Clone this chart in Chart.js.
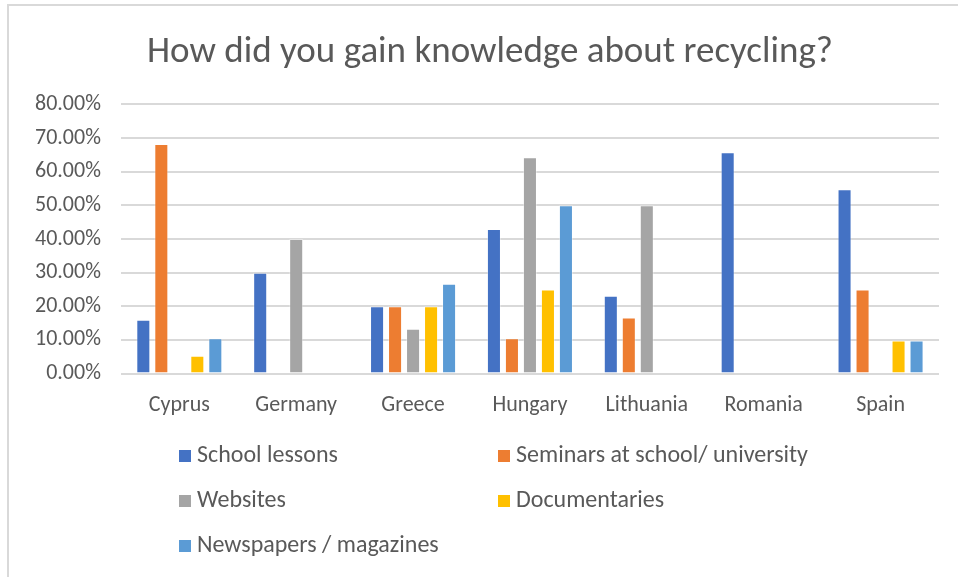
<!DOCTYPE html>
<html>
<head>
<meta charset="utf-8">
<title>Recycling knowledge</title>
<script src="https://cdn.jsdelivr.net/npm/chart.js@4.4.0/dist/chart.umd.min.js"></script>
<style>
    html, body { margin: 0; padding: 0; background: #fff; overflow: hidden; }
    #frame {
        position: absolute; left: 7px; top: 4px;
        width: 1000px; height: 1000px;
        border: 2px solid #D9D9D9;
    }
    #wrap { position: absolute; left: 0; top: 0; width: 958px; height: 577px; }
</style>
</head>
<body>
<div id="frame"></div>
<div id="wrap"><canvas id="chart" width="958" height="577"></canvas></div>
<script>
// Survey data (percent of respondents)
const countries = ['Cyprus', 'Germany', 'Greece', 'Hungary', 'Lithuania', 'Romania', 'Spain'];
const seriesNames = ['School lessons', 'Seminars at school/ university', 'Websites', 'Documentaries', 'Newspapers / magazines'];
const schoolLessons = [16, 30, 20, 43, 23.1, 65.8, 54.8];
const seminars = [68.2, 0, 20, 10.5, 16.7, 0, 25];
const websites = [0, 40, 13.3, 64.3, 50, 0, 0];
const documentaries = [5.3, 0, 20, 25, 0, 0, 9.8];
const newspapers = [10.5, 0, 26.7, 50, 0, 0, 9.8];
const yTicks = [0, 10, 20, 30, 40, 50, 60, 70, 80];

const colors = ['#4472C4', '#ED7D31', '#A5A5A5', '#FFC000', '#5B9BD5'];
const textColor = '#595959';
const fontFamily = 'Calibri, Carlito, Lato, sans-serif';

// Two-column legend under the plot
const gridLegend = {
    id: 'gridLegend',
    afterDraw(chart) {
        const ctx = chart.ctx;
        const cols = [179, 498];
        const rows = [456, 501, 546];
        ctx.save();
        ctx.font = '24px ' + fontFamily;
        ctx.textBaseline = 'middle';
        chart.data.datasets.forEach((ds, i) => {
            const x = cols[i % 2];
            const y = rows[Math.floor(i / 2)];
            ctx.fillStyle = ds.backgroundColor;
            ctx.fillRect(x, y - 6, 12, 12);
            ctx.fillStyle = textColor;
            ctx.fillText(ds.label, x + 18, y);
        });
        ctx.restore();
    }
};

// Nudge the title a little to the right of the canvas centre
const titleShift = {
    id: 'titleShift',
    afterLayout(chart) {
        if (chart.titleBlock) {
            chart.titleBlock.left += 13;
            chart.titleBlock.right += 13;
        }
    }
};

const seriesData = [schoolLessons, seminars, websites, documentaries, newspapers];

new Chart(document.getElementById('chart'), {
    type: 'bar',
    data: {
        labels: countries,
        datasets: seriesNames.map((name, i) => ({
            label: name,
            data: seriesData[i],
            backgroundColor: colors[i],
            borderColor: 'rgba(255,255,255,0.35)',
            borderWidth: 1
        }))
    },
    options: {
        responsive: false,
        animation: false,
        layout: {
            padding: { top: 22, left: 15, right: 19, bottom: 147 }
        },
        categoryPercentage: 0.77,
        barPercentage: 0.78,
        plugins: {
            legend: { display: false },
            tooltip: { enabled: false },
            title: {
                display: true,
                text: 'How did you gain knowledge about recycling?',
                color: textColor,
                font: { family: fontFamily, size: 37, weight: 'normal' },
                padding: { top: 9, bottom: 29 }
            }
        },
        scales: {
            x: {
                grid: { display: false },
                border: { display: false },
                ticks: {
                    color: textColor,
                    font: { family: fontFamily, size: 22 },
                    padding: 11
                }
            },
            y: {
                min: 0,
                max: 80,
                afterBuildTicks: (scale) => {
                    scale.ticks = yTicks.map(v => ({ value: v }));
                },
                grid: { color: '#D9D9D9', lineWidth: 2, drawTicks: false },
                border: { display: false },
                ticks: {
                    color: textColor,
                    font: { family: fontFamily, size: 22 },
                    padding: 20,
                    callback: (v) => v.toFixed(2) + '%'
                }
            }
        }
    },
    plugins: [gridLegend, titleShift]
});
</script>
</body>
</html>
